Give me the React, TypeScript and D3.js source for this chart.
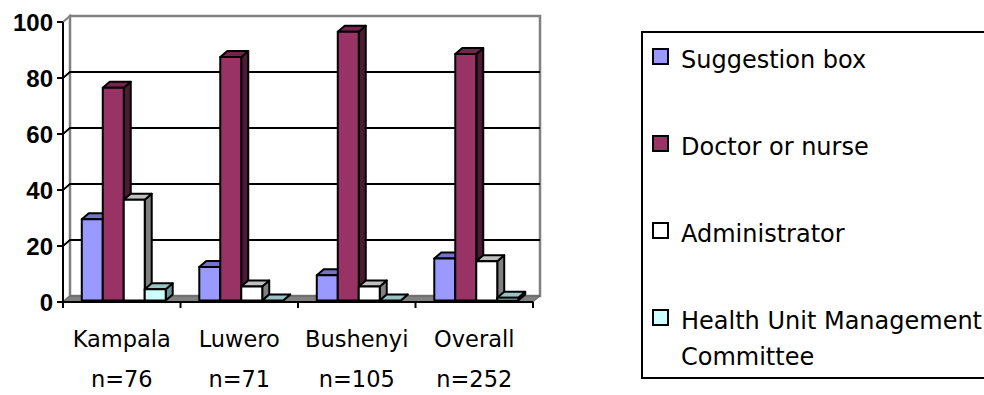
import React from "react";
import * as d3 from "d3";

// Districts, their sample sizes and the share (%) of respondents naming each channel
const categories = ["Kampala", "Luwero", "Bushenyi", "Overall"];
const sampleSizes = ["n=76", "n=71", "n=105", "n=252"];
const seriesNames = [
  "Suggestion box",
  "Doctor or nurse",
  "Administrator",
  "Health Unit Management Committee",
];
const suggestionBox = [29, 12, 9, 15];
const doctorOrNurse = [76, 87, 96, 88];
const administrator = [36, 5, 5, 14];
const managementCommittee = [4, 0, 0, 1];
const yTicks = [0, 20, 40, 60, 80, 100];

const seriesValues = [suggestionBox, doctorOrNurse, administrator, managementCommittee];

// front, top and side shades for each series
const faceColors = [
  { front: "#9999FF", top: "#7373CC", side: "#4D4D80" },
  { front: "#993366", top: "#73264D", side: "#4D1A33" },
  { front: "#FFFFFF", top: "#C0C0C0", side: "#808080" },
  { front: "#CCFFFF", top: "#99C4C4", side: "#6B9494" },
];

const W = 984;
const H = 395;

// 3D offsets: back wall relative to front axis, bar front face, and bar depth
const WALL = { dx: 7, dy: -6 };
const BAR_SHIFT = { dx: 2, dy: -1.5 };
const BAR_DEPTH = { dx: 7, dy: -6 };

const x = d3.scaleBand<string>().domain(categories).range([63, 533]);
const xs = d3
  .scaleBand<string>()
  .domain(seriesNames)
  .range([0, x.bandwidth()])
  .paddingInner(0)
  .paddingOuter(0.8);
const y = d3.scaleLinear().domain([0, 100]).range([302, 22]);

const pts = (p: [number, number][]) => p.map((q) => q.join(",")).join(" ");

export default function App() {
  const x0 = x.range()[0];
  const x1 = x.range()[1];
  const y0 = y(0);
  const yTop = y(100);

  const bars: React.ReactNode[] = [];
  categories.forEach((cat, ci) => {
    seriesNames.forEach((s, si) => {
      const v = seriesValues[si][ci];
      const c = faceColors[si];
      const bx = (x(cat) as number) + (xs(s) as number) + BAR_SHIFT.dx;
      const bw = xs.bandwidth();
      const yb = y0 + BAR_SHIFT.dy;
      const yt = y(v) + BAR_SHIFT.dy;
      const { dx, dy } = BAR_DEPTH;
      bars.push(
        <g key={`${cat}-${s}`} stroke="#000" strokeWidth={2} strokeLinejoin="round">
          <polygon
            points={pts([
              [bx + bw, yb],
              [bx + bw + dx, yb + dy],
              [bx + bw + dx, yt + dy],
              [bx + bw, yt],
            ])}
            fill={c.side}
          />
          <polygon
            points={pts([
              [bx, yt],
              [bx + dx, yt + dy],
              [bx + bw + dx, yt + dy],
              [bx + bw, yt],
            ])}
            fill={c.top}
          />
          {v > 0 && <rect x={bx} y={yt} width={bw} height={yb - yt} fill={c.front} />}
        </g>
      );
    });
  });

  const legendRows = [
    { top: 49, base: 68 },
    { top: 136, base: 155 },
    { top: 223, base: 242 },
    { top: 310, base: 329 },
  ];

  return (
    <svg
      width={W}
      height={H}
      style={{ position: "absolute", left: 0, top: 0, background: "#fff" }}
      fontFamily="'DejaVu Sans', sans-serif"
    >
      {/* left side wall */}
      <polygon
        points={pts([
          [x0, y0],
          [x0, yTop],
          [x0 + WALL.dx, yTop + WALL.dy],
          [x0 + WALL.dx, y0 + WALL.dy],
        ])}
        fill="#fff"
        stroke="#808080"
        strokeWidth={2}
      />
      {/* back wall */}
      <rect
        x={x0 + WALL.dx}
        y={yTop + WALL.dy}
        width={x1 - x0}
        height={y0 - yTop}
        fill="#fff"
        stroke="#808080"
        strokeWidth={2.5}
      />
      {/* gridlines across side and back wall */}
      {yTicks
        .filter((t) => t > 0 && t < 100)
        .map((t) => (
          <polyline
            key={t}
            points={pts([
              [x0, y(t)],
              [x0 + WALL.dx, y(t) + WALL.dy],
              [x1 + WALL.dx, y(t) + WALL.dy],
            ])}
            fill="none"
            stroke="#000"
            strokeWidth={1.8}
          />
        ))}
      {/* floor */}
      <polygon
        points={pts([
          [x0, y0],
          [x1, y0],
          [x1 + WALL.dx, y0 + WALL.dy],
          [x0 + WALL.dx, y0 + WALL.dy],
        ])}
        fill="#808080"
        stroke="#606060"
        strokeWidth={1}
      />
      {bars}
      {/* front axes */}
      <line x1={x0} y1={yTop} x2={x0} y2={y0} stroke="#000" strokeWidth={2} />
      <line x1={x0} y1={y0} x2={x1} y2={y0} stroke="#000" strokeWidth={2} />
      {yTicks.map((t) => (
        <g key={`yt${t}`}>
          <line x1={x0 - 6} y1={y(t)} x2={x0} y2={y(t)} stroke="#000" strokeWidth={2} />
          <text
            x={x0 - 10}
            y={y(t)}
            dy="0.36em"
            textAnchor="end"
            fontFamily="'Liberation Sans', Arial, sans-serif"
            fontWeight="bold"
            fontSize={24}
            fill="#000"
          >
            {t}
          </text>
        </g>
      ))}
      {[...categories.map((c) => x(c) as number), x1].map((px, i) => (
        <line key={`xt${i}`} x1={px} y1={y0} x2={px} y2={y0 + 6} stroke="#000" strokeWidth={2} />
      ))}
      {categories.map((c, i) => {
        const cx = (x(c) as number) + x.bandwidth() / 2;
        return (
          <g key={`xl${c}`} fontSize={22.5} fill="#000" textAnchor="middle">
            <text x={cx} y={347}>
              {c}
            </text>
            <text x={cx} y={387}>
              {sampleSizes[i]}
            </text>
          </g>
        );
      })}
      {/* legend */}
      <rect x={642} y={32} width={420} height={346} fill="#fff" stroke="#000" strokeWidth={2} />
      {seriesNames.map((s, i) => (
        <g key={`lg${s}`}>
          <rect
            x={653}
            y={legendRows[i].top}
            width={15}
            height={15}
            fill={faceColors[i].front}
            stroke="#000"
            strokeWidth={2}
          />
          {i < 3 ? (
            <text x={681} y={legendRows[i].base} fontSize={24} fill="#000">
              {s}
            </text>
          ) : (
            <text x={681} y={legendRows[i].base} fontSize={24} fill="#000">
              <tspan x={681}>Health Unit Management</tspan>
              <tspan x={681} dy={36}>
                Committee
              </tspan>
            </text>
          )}
        </g>
      ))}
    </svg>
  );
}
